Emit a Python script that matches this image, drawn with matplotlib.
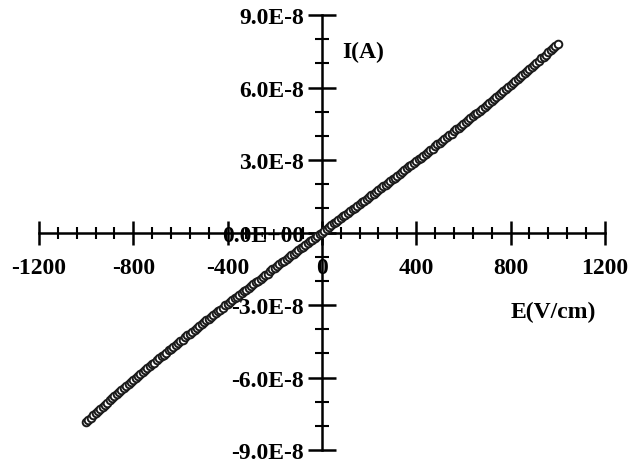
import numpy as np
import matplotlib.pyplot as plt
from matplotlib.ticker import FixedLocator, FixedFormatter, MultipleLocator

field_neg = [-1000, -990, -980, -970, -960, -950, -940, -930, -920, -910,
             -900, -890, -880, -870, -860, -850, -840, -830, -820, -810,
             -800, -790, -780, -770, -760, -750, -740, -730, -720, -710,
             -700, -690, -680, -670, -660, -650, -640, -630, -620, -610,
             -600, -590, -580, -570, -560, -550, -540, -530, -520, -510,
             -500, -490, -480, -470, -460, -450, -440, -430, -420, -410,
             -400, -390, -380, -370, -360, -350, -340, -330, -320, -310,
             -300, -290, -280, -270, -260, -250, -240, -230, -220, -210,
             -200, -190, -180, -170, -160, -150, -140, -130, -120, -110,
             -100, -90, -80, -70, -60, -50, -40, -30, -20, -10]
field_pos = [0, 10, 20, 30, 40, 50, 60, 70, 80, 90,
             100, 110, 120, 130, 140, 150, 160, 170, 180, 190,
             200, 210, 220, 230, 240, 250, 260, 270, 280, 290,
             300, 310, 320, 330, 340, 350, 360, 370, 380, 390,
             400, 410, 420, 430, 440, 450, 460, 470, 480, 490,
             500, 510, 520, 530, 540, 550, 560, 570, 580, 590,
             600, 610, 620, 630, 640, 650, 660, 670, 680, 690,
             700, 710, 720, 730, 740, 750, 760, 770, 780, 790,
             800, 810, 820, 830, 840, 850, 860, 870, 880, 890,
             900, 910, 920, 930, 940, 950, 960, 970, 980, 990,
             1000]

# current in units of 1E-8 A
current_neg = [-7.83, -7.74, -7.66, -7.56, -7.47, -7.40, -7.30, -7.20, -7.12, -7.04,
               -6.95, -6.85, -6.78, -6.70, -6.61, -6.51, -6.44, -6.36, -6.27, -6.18,
               -6.10, -6.03, -5.94, -5.85, -5.78, -5.70, -5.61, -5.52, -5.45, -5.38,
               -5.29, -5.20, -5.13, -5.06, -4.97, -4.88, -4.81, -4.74, -4.65, -4.56,
               -4.50, -4.43, -4.34, -4.25, -4.18, -4.11, -4.03, -3.94, -3.87, -3.80,
               -3.72, -3.63, -3.56, -3.50, -3.41, -3.33, -3.26, -3.19, -3.11, -3.02,
               -2.96, -2.89, -2.81, -2.72, -2.66, -2.59, -2.51, -2.42, -2.36, -2.29,
               -2.21, -2.12, -2.06, -1.99, -1.91, -1.83, -1.76, -1.70, -1.61, -1.53,
               -1.47, -1.40, -1.32, -1.23, -1.17, -1.11, -1.02, -0.94, -0.88, -0.81,
               -0.73, -0.65, -0.58, -0.52, -0.44, -0.36, -0.29, -0.23, -0.15, -0.07]
current_pos = [0.00, 0.08, 0.15, 0.21, 0.29, 0.38, 0.44, 0.50, 0.58, 0.67,
               0.73, 0.79, 0.88, 0.96, 1.02, 1.09, 1.17, 1.25, 1.32, 1.38,
               1.46, 1.55, 1.61, 1.68, 1.76, 1.84, 1.91, 1.97, 2.06, 2.14,
               2.20, 2.27, 2.35, 2.44, 2.50, 2.57, 2.65, 2.74, 2.80, 2.87,
               2.95, 3.04, 3.10, 3.17, 3.26, 3.34, 3.41, 3.47, 3.56, 3.65,
               3.71, 3.78, 3.87, 3.95, 4.02, 4.09, 4.18, 4.27, 4.33, 4.40,
               4.49, 4.58, 4.65, 4.72, 4.81, 4.89, 4.96, 5.03, 5.12, 5.21,
               5.28, 5.35, 5.45, 5.54, 5.61, 5.68, 5.77, 5.86, 5.93, 6.01,
               6.10, 6.19, 6.27, 6.34, 6.43, 6.53, 6.60, 6.67, 6.77, 6.86,
               6.94, 7.01, 7.11, 7.21, 7.28, 7.36, 7.46, 7.55, 7.63, 7.71,
               7.81]

x_ticks = [-1200, -800, -400, 0, 400, 800, 1200]
x_tick_labels = ["-1200", "-800", "-400", "0", "400", "800", "1200"]
y_ticks = [-9e-8, -6e-8, -3e-8, 0, 3e-8, 6e-8, 9e-8]
y_tick_labels = ["-9.0E-8", "-6.0E-8", "-3.0E-8", "0.0E+00", "3.0E-8", "6.0E-8", "9.0E-8"]

E = np.array(field_neg + field_pos)
I = np.array(current_neg + current_pos) * 1e-8

plt.rcParams['font.family'] = 'Liberation Serif'
plt.rcParams['font.weight'] = 'bold'

fig = plt.figure(figsize=(6.38, 4.64), dpi=100)
ax = fig.add_axes([0.061, 0.028, 0.887, 0.9375])

ax.plot(E, I, "o", mfc="white", mec="#1a1a1a", mew=1.4, markersize=5.5, zorder=3)

ax.set_xlim(-1200, 1200)
ax.set_ylim(-9e-8, 9e-8)

ax.spines['left'].set_position('zero')
ax.spines['bottom'].set_position('zero')
ax.spines['right'].set_visible(False)
ax.spines['top'].set_visible(False)
for s in ['left', 'bottom']:
    ax.spines[s].set_linewidth(1.8)

ax.xaxis.set_major_locator(FixedLocator(x_ticks))
ax.xaxis.set_major_formatter(FixedFormatter(x_tick_labels))
ax.xaxis.set_minor_locator(MultipleLocator(80))
ax.yaxis.set_major_locator(FixedLocator(y_ticks))
ax.yaxis.set_major_formatter(FixedFormatter(y_tick_labels))
ax.yaxis.set_minor_locator(MultipleLocator(1e-8))

ax.tick_params(axis='x', which='major', direction='inout', length=17, width=1.8, labelsize=17, pad=9)
ax.tick_params(axis='x', which='minor', direction='inout', length=8, width=1.5)
ax.tick_params(axis='y', which='major', direction='inout', length=20, width=1.8, labelsize=17, pad=3)
ax.tick_params(axis='y', which='minor', direction='inout', length=10, width=1.5)

ax.text(86, 7.5e-8, "I(A)", fontsize=17, fontweight='bold', va='center', ha='left')
ax.text(980, -3.25e-8, "E(V/cm)", fontsize=17, fontweight='bold', va='center', ha='center')

fig.savefig("out.png", dpi=100)
